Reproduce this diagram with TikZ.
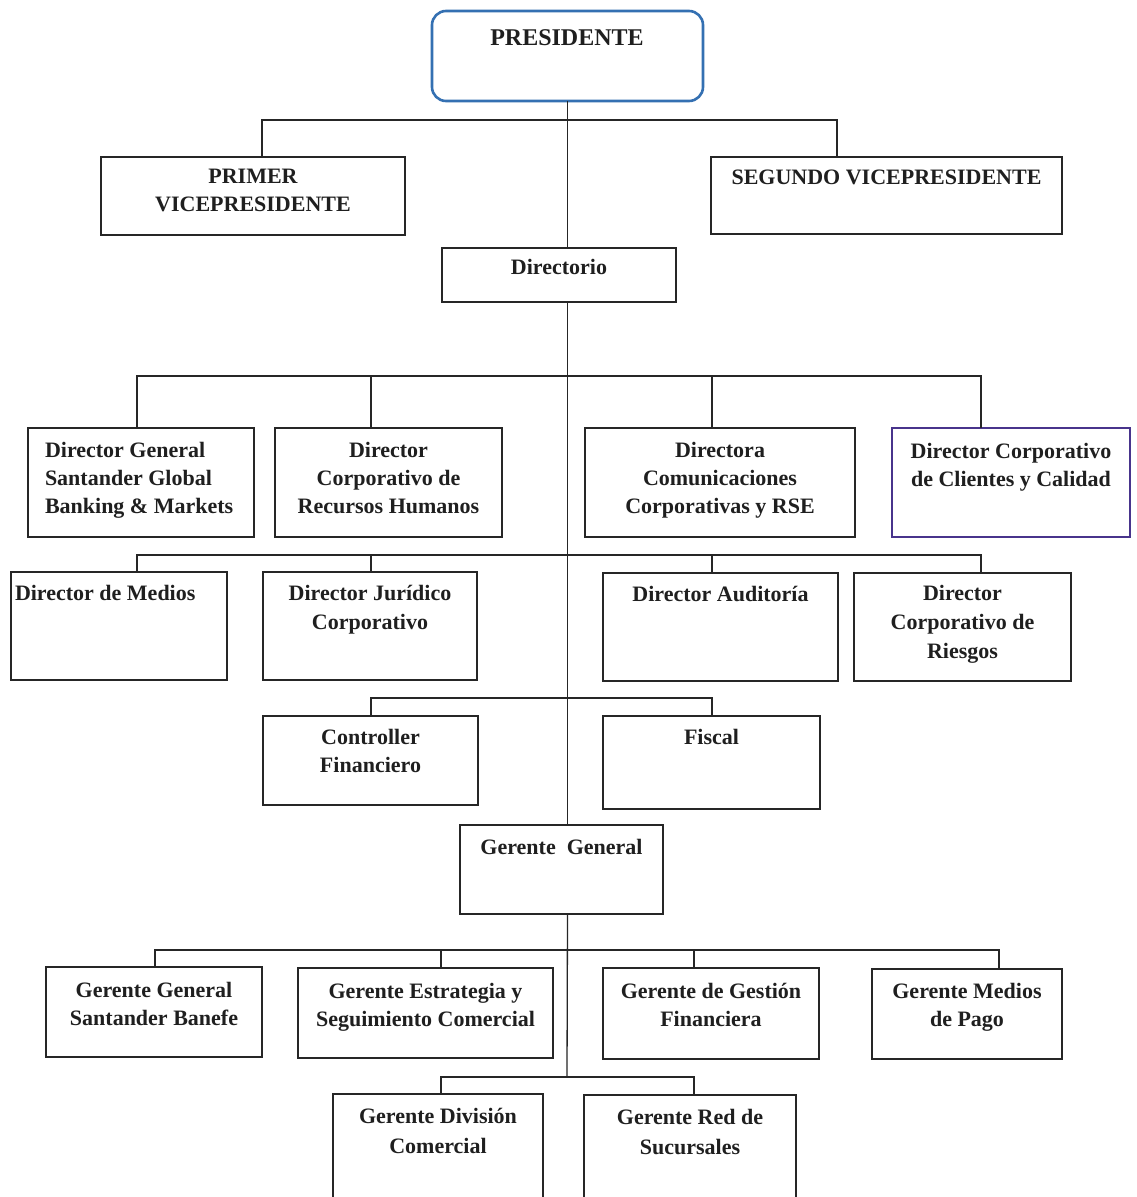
\documentclass[tikz,border=0pt]{standalone}
\usepackage{fontspec}
\setmainfont{Liberation Serif}[BoldFont={Liberation Serif Bold}]
\definecolor{presblue}{RGB}{52,112,178}
\definecolor{purp}{RGB}{72,52,140}
\tikzset{
 box/.style={draw=black!85, line width=1.4pt, rectangle, outer sep=0pt, inner sep=0pt},
 lbl/.style={inner sep=0pt, outer sep=0pt, font=\fontsize{22}{28}\selectfont\bfseries, text=black!88},
 conn/.style={draw=black!85, line width=1.3pt},
}
\newcommand\bx[7]{%
 \node[box, minimum width={(#4)-(#2)}, minimum height={(#5)-(#3)}, anchor=north west] (#1) at (#2,#3) {};
 \node[lbl, align=center, anchor=north] (#1t) at ({((#2)+(#4))/2},#6) {#7};}
\newcommand\bxl[8]{%
 \node[box, minimum width={(#4)-(#2)}, minimum height={(#5)-(#3)}, anchor=north west] (#1) at (#2,#3) {};
 \node[lbl, align=left, anchor=north west] (#1t) at (#6,#7) {#8};}
\begin{document}
\begin{tikzpicture}[x=1pt,y=-1pt]
\useasboundingbox (0,0) rectangle (1136,1197);
\fill[white] (0,0) rectangle (1136,1197);
\clip (0,0) rectangle (1136,1197);
% president
\node[draw=presblue, line width=2.6pt, rounded corners=14pt, minimum width=271pt, minimum height=90pt, outer sep=0pt, inner sep=0pt, anchor=north west] (pres) at (432,11) {};
\node[lbl, font=\fontsize{24}{28}\selectfont\bfseries, anchor=north] (prest) at (567,30) {PRESIDENTE};
\bx{pv}{101}{157}{405}{235}{169}{PRIMER\\VICEPRESIDENTE}
\bx{sv}{711}{157}{1062}{234}{170}{SEGUNDO VICEPRESIDENTE}
\bx{dir}{442}{248}{676}{302}{259}{Directorio}
\bxl{a1}{28}{428}{254}{537}{45}{442}{Director General\\Santander Global\\Banking \& Markets}
\bx{a2}{275}{428}{502}{537}{442}{Director\\Corporativo de\\Recursos Humanos}
\bx{a3}{585}{428}{855}{537}{442}{Directora\\Comunicaciones\\Corporativas y RSE}
\bx{a4}{892}{428}{1130}{537}{443}{Director Corporativo\\de Clientes y Calidad}
\draw[purp, line width=1.4pt] (a4.north west) rectangle (a4.south east);
\bxl{b1}{11}{572}{227}{680}{15}{585}{Director de Medios}
\bx{b2}{263}{572}{477}{680}{585}{Director Jurídico\\[1pt]Corporativo}
\bx{b3}{603}{573}{838}{681}{586}{Director Auditoría}
\bx{b4}{854}{573}{1071}{681}{585}{Director\\[1pt]Corporativo de\\[1pt]Riesgos}
\bx{c1}{263}{716}{478}{805}{729}{Controller\\Financiero}
\bx{c2}{603}{716}{820}{809}{729}{Fiscal}
\bx{gg}{460}{825}{663}{914}{839}{Gerente\ \ General}
\bx{d1}{46}{967}{262}{1057}{982}{Gerente General\\Santander Banefe}
\bx{d2}{298}{968}{553}{1058}{983}{Gerente Estrategia y\\Seguimiento Comercial}
\bx{d3}{603}{968}{819}{1059}{983}{Gerente de Gestión\\Financiera}
\bx{d4}{872}{969}{1062}{1059}{983}{Gerente Medios\\de Pago}
\bx{e1}{333}{1094}{543}{1215}{1108}{Gerente División\\[2pt]Comercial}
\bx{e2}{584}{1095}{796}{1215}{1109}{Gerente Red de\\[2pt]Sucursales}
% connectors
\draw[conn] (pres.south) -- (pres.south |- dir.north);
\draw[conn] (pv.north -| 262,0) -- (262,120) -- (837,120) -- (sv.north -| 837,0);
\draw[conn] (dir.south -| pres.south) -- (gg.north -| pres.south);
\draw[conn] (a1.north -| 137,0) -- (137,376) -- (981,376) -- (a4.north -| 981,0);
\draw[conn] (371,376) -- (a2.north -| 371,0);
\draw[conn] (712,376) -- (a3.north -| 712,0);
\draw[conn] (b1.north -| 137,0) -- (137,555) -- (981,555) -- (b4.north -| 981,0);
\draw[conn] (371,555) -- (b2.north -| 371,0);
\draw[conn] (712,555) -- (b3.north -| 712,0);
\draw[conn] (c1.north -| 371,0) -- (371,698) -- (712,698) -- (c2.north -| 712,0);
\draw[conn] (gg.south -| pres.south) -- (567,1077);
\draw[conn, line width=2pt] (d1.north -| 155,0) -- (155,950) -- (999,950) -- (d4.north -| 999,0);
\draw[conn] (441,950) -- (d2.north -| 441,0);
\draw[conn] (694,950) -- (d3.north -| 694,0);
\draw[conn] (e1.north -| 441,0) -- (441,1077) -- (694,1077) -- (e2.north -| 694,0);
\end{tikzpicture}
\end{document}
